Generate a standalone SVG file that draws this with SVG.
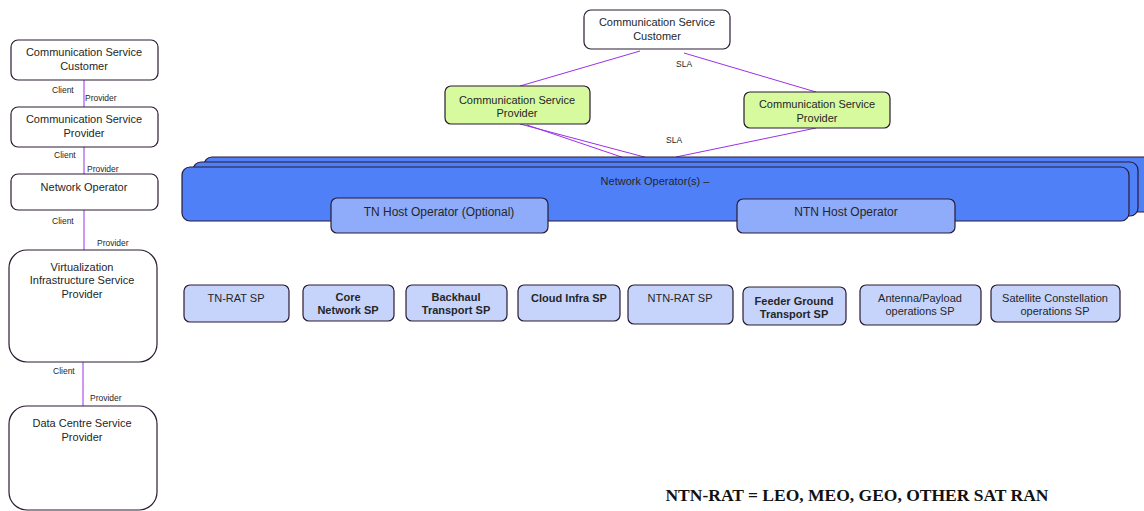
<svg xmlns="http://www.w3.org/2000/svg" width="1144" height="511" viewBox="0 0 1144 511">
<style>
  text { font-family: "Liberation Sans", Arial, sans-serif; fill: #262626; }
  .t { font-size: 11px; text-anchor: middle; }
  .b { font-weight: bold; }
  .lbl { font-size: 8.5px; }
  .box { fill: #ffffff; stroke: #2a1a33; stroke-width: 1.2; }
  .csp { fill: #d7fa9e; stroke: #2a1a33; stroke-width: 1.2; }
  .no { fill: #5080f8; stroke: #2a1a33; stroke-width: 1.2; }
  .host { fill: #8eacfa; stroke: #2a1a33; stroke-width: 1.2; }
  .sp { fill: #c6d4fb; stroke: #2a1a33; stroke-width: 1.2; }
  .link { stroke: #9b30e8; stroke-width: 1; fill: none; }
</style>

<!-- connectors -->
<g id="connectors">
  <line class="link" x1="84" y1="80" x2="84" y2="107"/>
  <line class="link" x1="84" y1="147" x2="84" y2="174"/>
  <line class="link" x1="84" y1="210" x2="84" y2="250"/>
  <line class="link" x1="83" y1="362" x2="83" y2="406"/>
  <line class="link" x1="640" y1="51" x2="520" y2="86"/>
  <line class="link" x1="684" y1="53" x2="816" y2="92"/>
  <line class="link" x1="520" y1="124" x2="667" y2="163"/>
  <line class="link" x1="527" y1="125" x2="657" y2="169"/>
  <line class="link" x1="816" y1="128" x2="676" y2="157"/>
</g>

<!-- connector labels -->
<g id="connector-labels">
  <text class="lbl" x="52" y="93">Client</text>
  <text class="lbl" x="85" y="101">Provider</text>
  <text class="lbl" x="54" y="158">Client</text>
  <text class="lbl" x="87" y="172">Provider</text>
  <text class="lbl" x="52" y="224">Client</text>
  <text class="lbl" x="97" y="246">Provider</text>
  <text class="lbl" x="53" y="374">Client</text>
  <text class="lbl" x="90" y="401">Provider</text>
  <text class="lbl" x="676" y="67">SLA</text>
  <text class="lbl" x="666" y="143">SLA</text>
</g>

<!-- left column: role chain -->
<g id="left-csc">
  <rect class="box" x="11" y="40" width="147" height="40" rx="7"/>
  <text class="t" x="84" y="56">Communication Service</text>
  <text class="t" x="84" y="70">Customer</text>
</g>
<g id="left-csp">
  <rect class="box" x="11" y="107" width="147" height="40" rx="7"/>
  <text class="t" x="84" y="123">Communication Service</text>
  <text class="t" x="84" y="137">Provider</text>
</g>
<g id="left-no">
  <rect class="box" x="11" y="174" width="147" height="36" rx="7"/>
  <text class="t" x="84" y="191">Network Operator</text>
</g>
<g id="left-visp">
  <rect class="box" x="9" y="250" width="148" height="112" rx="18"/>
  <text class="t" x="82" y="271">Virtualization</text>
  <text class="t" x="82" y="284">Infrastructure Service</text>
  <text class="t" x="82" y="298">Provider</text>
</g>
<g id="left-dcsp">
  <rect class="box" x="9" y="406" width="148" height="104" rx="18"/>
  <text class="t" x="82" y="427">Data Centre Service</text>
  <text class="t" x="82" y="441">Provider</text>
</g>

<!-- top: customer and providers -->
<g id="top-csc">
  <rect class="box" x="584" y="10" width="146" height="39" rx="7"/>
  <text class="t" x="657" y="26">Communication Service</text>
  <text class="t" x="657" y="40">Customer</text>
</g>
<g id="csp-1">
  <rect class="csp" x="445" y="86" width="145" height="38" rx="6"/>
  <text class="t" x="517" y="104">Communication Service</text>
  <text class="t" x="517" y="117">Provider</text>
</g>
<g id="csp-2">
  <rect class="csp" x="744" y="92" width="146" height="36" rx="6"/>
  <text class="t" x="817" y="108">Communication Service</text>
  <text class="t" x="817" y="122">Provider</text>
</g>

<!-- network operator stack -->
<g id="network-operators">
  <rect class="no" x="204" y="157" width="948" height="55" rx="8"/>
  <rect class="no" x="193" y="162" width="945" height="54" rx="8"/>
  <rect class="no" x="182" y="167" width="947" height="54" rx="8"/>
  <text class="t" x="655" y="185">Network Operator(s)  –</text>
</g>
<g id="tn-host">
  <rect class="host" x="331" y="198" width="217" height="35" rx="6"/>
  <text class="t" x="439" y="216" style="font-size:12px">TN Host Operator (Optional)</text>
</g>
<g id="ntn-host">
  <rect class="host" x="737" y="199" width="218" height="34" rx="6"/>
  <text class="t" x="846" y="216" style="font-size:12px">NTN Host Operator</text>
</g>

<!-- service providers -->
<g id="sp-tn-rat">
  <rect class="sp" x="184" y="285" width="105" height="37" rx="6"/>
  <text class="t" x="236" y="302">TN-RAT SP</text>
</g>
<g id="sp-core">
  <rect class="sp" x="303" y="285" width="91" height="36" rx="6"/>
  <text class="t b" x="348" y="301">Core</text>
  <text class="t b" x="348" y="314">Network SP</text>
</g>
<g id="sp-backhaul">
  <rect class="sp" x="406" y="285" width="101" height="36" rx="6"/>
  <text class="t b" x="456" y="301">Backhaul</text>
  <text class="t b" x="456" y="314">Transport SP</text>
</g>
<g id="sp-cloud">
  <rect class="sp" x="518" y="285" width="102" height="36" rx="6"/>
  <text class="t b" x="569" y="302">Cloud Infra SP</text>
</g>
<g id="sp-ntn-rat">
  <rect class="sp" x="628" y="285" width="105" height="39" rx="6"/>
  <text class="t" x="680" y="302">NTN-RAT SP</text>
</g>
<g id="sp-feeder">
  <rect class="sp" x="743" y="287" width="103" height="38" rx="6"/>
  <text class="t b" x="794" y="305">Feeder Ground</text>
  <text class="t b" x="794" y="318">Transport SP</text>
</g>
<g id="sp-antenna">
  <rect class="sp" x="860" y="285" width="121" height="40" rx="6"/>
  <text class="t" x="920" y="302">Antenna/Payload</text>
  <text class="t" x="920" y="315">operations SP</text>
</g>
<g id="sp-satellite">
  <rect class="sp" x="991" y="285" width="129" height="37" rx="6"/>
  <text class="t" x="1055" y="302">Satellite Constellation</text>
  <text class="t" x="1055" y="315">operations SP</text>
</g>

<!-- legend -->
<text x="857" y="501" style="font-family:'Liberation Serif','Times New Roman',serif;font-size:17.5px;font-weight:bold;text-anchor:middle;fill:#111">NTN-RAT = LEO, MEO, GEO, OTHER SAT RAN</text>
</svg>
